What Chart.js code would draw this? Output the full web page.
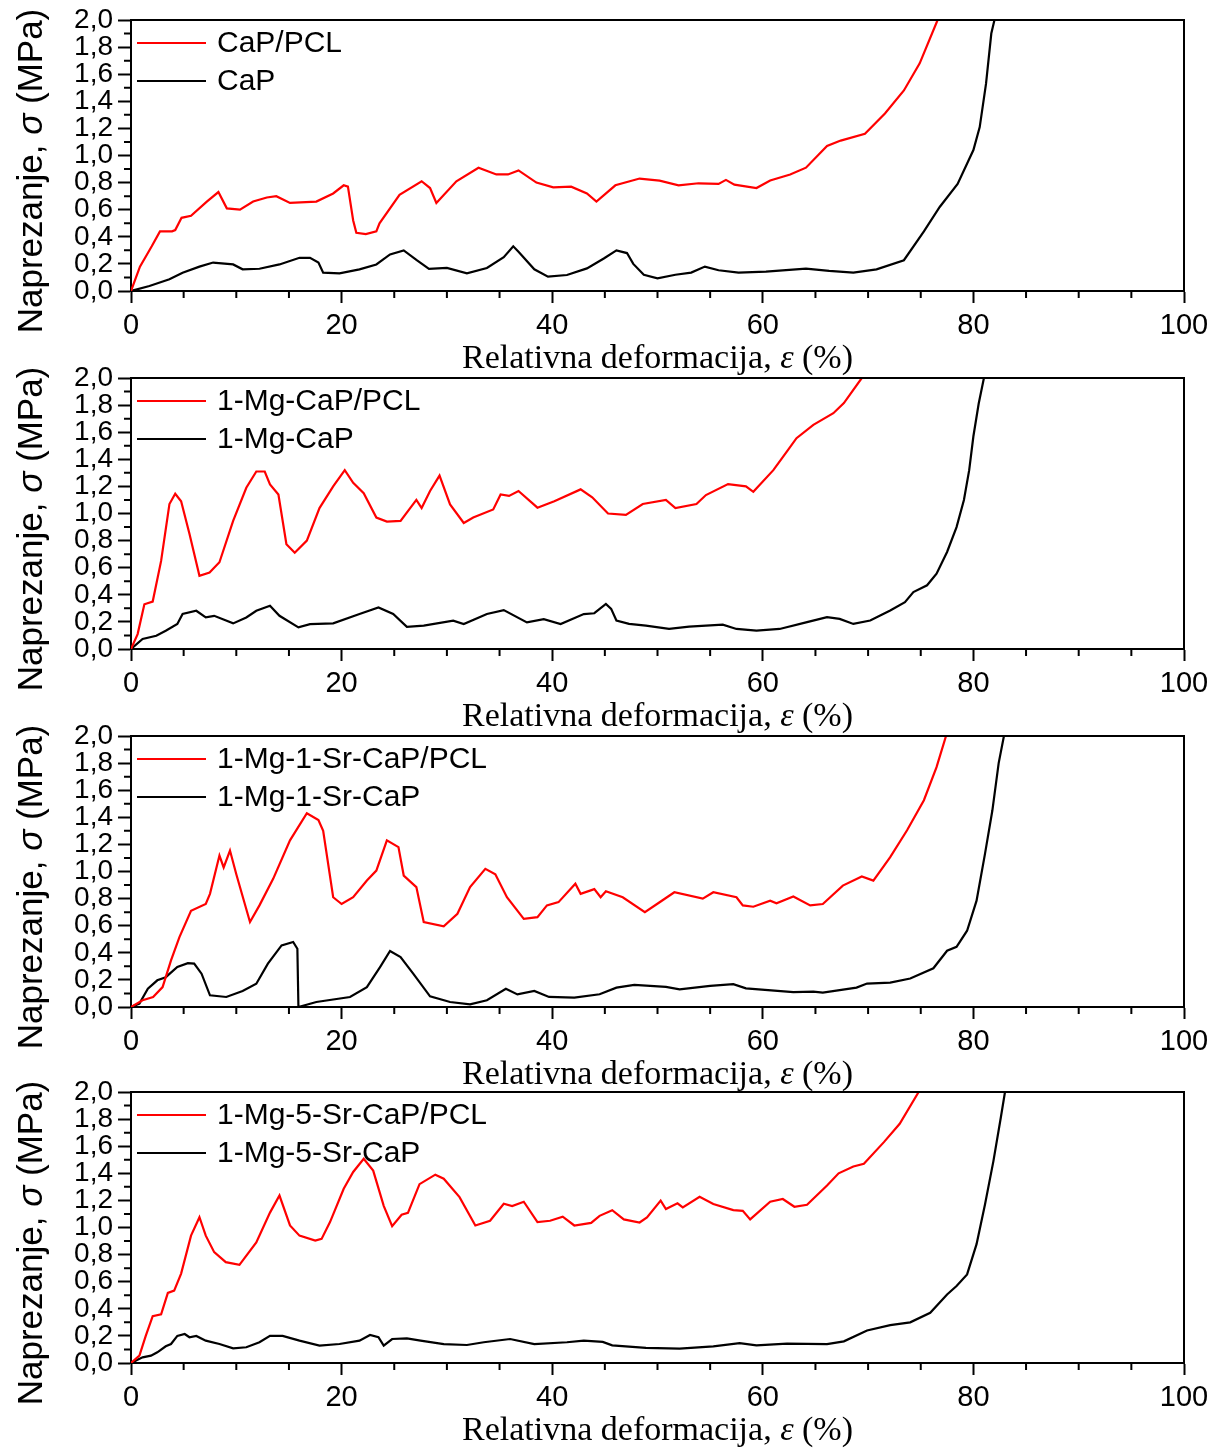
<!DOCTYPE html>
<html>
<head>
<meta charset="utf-8">
<script src="https://cdn.jsdelivr.net/npm/chart.js@4.4.0/dist/chart.umd.min.js"></script>
<style>
  body { margin: 0; background: #fff; }
  canvas.panel { position: absolute; left: 0; }
</style>
</head>
<body>
<canvas id="p1" class="panel" style="top:0px" width="1220" height="376"></canvas>
<canvas id="p2" class="panel" style="top:358px" width="1220" height="376"></canvas>
<canvas id="p3" class="panel" style="top:716px" width="1220" height="376"></canvas>
<canvas id="p4" class="panel" style="top:1072px" width="1220" height="376"></canvas>
<script>
// axis ticks
const xMajor = [0, 20, 40, 60, 80, 100];
const yLabels = ['0,0', '0,2', '0,4', '0,6', '0,8', '1,0', '1,2', '1,4', '1,6', '1,8', '2,0'];
const xTitle = ['Relativna deformacija, ', 'ε', ' (%)'];
const yTitle = ['Naprezanje, ', 'σ', ' (MPa)'];

// panel 1
const capPclX = [0, 0.85, 1.97, 2.75, 3.9, 4.2, 4.8, 5.7, 7.2, 8.3, 9.1, 10.35, 11.6, 12.9, 13.8, 15.1, 17.6, 19.2, 20.2, 20.6, 21.1, 21.4, 22.3, 23.3, 23.6, 25.5, 27.6, 28.4, 29.0, 30.9, 33.0, 34.7, 35.8, 36.8, 38.5, 40.1, 41.8, 43.3, 44.2, 46.0, 48.3, 50.2, 52.0, 53.9, 55.8, 56.5, 57.3, 59.4, 60.7, 62.6, 64.1, 66.1, 67.4, 69.7, 71.6, 73.4, 74.9, 76.6];
const capPclY = [0, 0.18, 0.33, 0.44, 0.44, 0.45, 0.54, 0.555, 0.66, 0.73, 0.61, 0.60, 0.66, 0.69, 0.70, 0.65, 0.66, 0.72, 0.78, 0.77, 0.52, 0.43, 0.42, 0.44, 0.50, 0.71, 0.81, 0.76, 0.65, 0.81, 0.91, 0.86, 0.86, 0.89, 0.80, 0.765, 0.77, 0.72, 0.66, 0.78, 0.83, 0.815, 0.78, 0.795, 0.79, 0.82, 0.785, 0.76, 0.815, 0.86, 0.91, 1.07, 1.11, 1.16, 1.31, 1.48, 1.68, 2.0];
const capX = [0, 1.75, 3.65, 4.9, 6.5, 7.8, 9.7, 10.6, 12.2, 14.1, 16.0, 17.0, 17.8, 18.25, 19.8, 21.7, 23.3, 24.6, 25.9, 27.1, 28.3, 30.0, 31.9, 33.8, 35.4, 36.3, 36.8, 38.3, 39.6, 41.4, 43.3, 44.9, 46.1, 47.1, 47.7, 48.7, 50.0, 51.7, 53.2, 54.5, 55.8, 57.7, 60.3, 64.1, 66.3, 68.6, 70.8, 73.4, 75.3, 76.8, 78.5, 80.0, 80.6, 81.2, 81.7, 82.0];
const capY = [0, 0.037, 0.086, 0.135, 0.18, 0.21, 0.196, 0.16, 0.164, 0.196, 0.245, 0.245, 0.21, 0.135, 0.13, 0.16, 0.196, 0.27, 0.30, 0.23, 0.164, 0.17, 0.13, 0.17, 0.25, 0.33, 0.29, 0.16, 0.106, 0.118, 0.167, 0.24, 0.30, 0.28, 0.20, 0.12, 0.094, 0.12, 0.136, 0.18, 0.153, 0.136, 0.143, 0.165, 0.148, 0.136, 0.16, 0.227, 0.44, 0.62, 0.79, 1.04, 1.21, 1.53, 1.90, 2.0];

// panel 2
const mgPclX = [0, 0.63, 1.27, 2.06, 2.86, 3.65, 4.2, 4.76, 5.55, 6.5, 7.46, 8.4, 9.7, 10.95, 11.9, 12.7, 13.2, 14.0, 14.76, 15.55, 16.7, 17.9, 19.2, 20.3, 21.1, 22.1, 23.3, 24.3, 25.6, 27.1, 27.6, 28.4, 29.3, 30.3, 31.6, 32.5, 34.4, 35.1, 35.9, 36.8, 38.6, 40.2, 42.7, 43.8, 45.3, 47.0, 48.6, 50.8, 51.7, 53.7, 54.6, 56.7, 58.4, 59.1, 61.0, 62.4, 63.2, 64.8, 66.7, 67.7, 69.4];
const mgPclY = [0, 0.11, 0.33, 0.35, 0.65, 1.07, 1.146, 1.09, 0.85, 0.54, 0.564, 0.64, 0.945, 1.19, 1.31, 1.31, 1.215, 1.14, 0.773, 0.71, 0.80, 1.04, 1.20, 1.32, 1.227, 1.15, 0.97, 0.94, 0.945, 1.10, 1.04, 1.166, 1.28, 1.067, 0.93, 0.97, 1.03, 1.14, 1.13, 1.166, 1.043, 1.09, 1.178, 1.12, 1.0, 0.99, 1.07, 1.10, 1.04, 1.07, 1.136, 1.217, 1.2, 1.16, 1.32, 1.47, 1.556, 1.654, 1.74, 1.815, 2.0];
const mgX = [0, 1.1, 2.4, 3.3, 4.4, 4.9, 6.2, 7.1, 7.9, 9.7, 10.95, 11.9, 13.2, 14.1, 15.9, 17.0, 19.2, 21.7, 23.5, 24.9, 26.2, 27.8, 30.6, 31.6, 33.8, 35.4, 37.6, 39.2, 40.8, 43.0, 44.0, 45.1, 45.6, 46.1, 47.3, 48.9, 51.1, 53.0, 56.2, 57.5, 59.4, 61.6, 64.2, 66.1, 67.3, 68.6, 70.2, 72.1, 73.5, 74.3, 75.6, 76.5, 77.5, 78.4, 79.1, 79.6, 80.0, 80.5, 81.0];
const mgY = [0, 0.074, 0.098, 0.135, 0.184, 0.258, 0.282, 0.233, 0.245, 0.189, 0.233, 0.282, 0.319, 0.245, 0.16, 0.184, 0.189, 0.258, 0.307, 0.258, 0.164, 0.172, 0.209, 0.184, 0.258, 0.287, 0.196, 0.22, 0.184, 0.258, 0.264, 0.333, 0.296, 0.21, 0.185, 0.173, 0.148, 0.165, 0.18, 0.148, 0.136, 0.148, 0.198, 0.235, 0.222, 0.185, 0.21, 0.284, 0.346, 0.42, 0.47, 0.556, 0.716, 0.90, 1.10, 1.32, 1.57, 1.81, 2.0];

// panel 3
const sr1PclX = [0, 1.1, 2.1, 3.0, 3.8, 4.6, 5.7, 7.1, 7.5, 8.4, 8.8, 9.4, 10.0, 11.3, 12.2, 13.5, 15.1, 16.7, 17.8, 18.25, 19.2, 20.0, 21.1, 22.4, 23.3, 24.3, 25.4, 25.9, 27.1, 27.8, 29.7, 31.0, 32.2, 33.65, 34.6, 35.7, 37.3, 38.6, 39.5, 40.6, 42.2, 42.7, 44.0, 44.6, 45.1, 46.7, 48.8, 50.2, 51.6, 54.3, 55.3, 57.5, 58.1, 59.1, 60.7, 61.3, 62.9, 64.5, 65.7, 67.6, 69.4, 70.5, 72.1, 73.7, 75.3, 76.5, 77.4];
const sr1PclY = [0, 0.05, 0.074, 0.147, 0.344, 0.516, 0.71, 0.76, 0.835, 1.118, 1.03, 1.155, 0.98, 0.627, 0.75, 0.946, 1.23, 1.43, 1.38, 1.30, 0.81, 0.76, 0.81, 0.934, 1.007, 1.23, 1.18, 0.97, 0.885, 0.627, 0.595, 0.688, 0.885, 1.02, 0.98, 0.81, 0.65, 0.663, 0.75, 0.774, 0.91, 0.835, 0.87, 0.81, 0.854, 0.81, 0.70, 0.773, 0.847, 0.80, 0.847, 0.81, 0.75, 0.74, 0.785, 0.765, 0.815, 0.75, 0.76, 0.896, 0.963, 0.933, 1.106, 1.304, 1.526, 1.77, 2.0];
const sr1X = [0, 0.8, 1.6, 2.5, 3.3, 4.4, 5.4, 6.0, 6.7, 7.5, 9.05, 10.6, 11.9, 13.0, 14.3, 15.4, 15.8, 15.9, 17.6, 20.8, 22.4, 23.65, 24.6, 25.6, 26.8, 28.4, 30.3, 32.2, 33.8, 35.6, 36.7, 38.3, 39.7, 42.1, 44.5, 46.1, 47.8, 50.8, 52.1, 55.0, 57.2, 58.4, 62.9, 64.8, 65.7, 68.9, 69.9, 72.1, 74.0, 76.2, 77.5, 78.4, 79.4, 80.3, 81.1, 81.8, 82.4, 82.9];
const sr1Y = [0, 0.025, 0.135, 0.197, 0.22, 0.295, 0.324, 0.32, 0.246, 0.086, 0.074, 0.118, 0.172, 0.32, 0.455, 0.48, 0.43, 0.0, 0.037, 0.074, 0.147, 0.295, 0.413, 0.369, 0.246, 0.079, 0.037, 0.02, 0.05, 0.135, 0.093, 0.118, 0.074, 0.069, 0.094, 0.143, 0.163, 0.148, 0.13, 0.156, 0.168, 0.138, 0.11, 0.114, 0.106, 0.143, 0.173, 0.18, 0.21, 0.286, 0.415, 0.444, 0.563, 0.785, 1.13, 1.45, 1.80, 2.0];

// panel 4
const sr5PclX = [0, 0.8, 1.4, 2.06, 2.86, 3.5, 4.1, 4.76, 5.7, 6.5, 7.1, 7.9, 9.0, 10.3, 11.9, 13.2, 14.1, 15.1, 16.0, 17.5, 18.1, 18.9, 20.2, 21.1, 22.1, 23.0, 24.0, 24.8, 25.7, 26.3, 27.4, 28.9, 29.7, 31.2, 32.7, 34.1, 35.4, 36.2, 37.3, 38.6, 39.8, 41.0, 42.1, 43.7, 44.5, 45.7, 46.8, 48.3, 49.0, 50.3, 50.8, 51.9, 52.4, 54.0, 55.3, 57.2, 58.1, 58.8, 60.7, 61.9, 63.0, 64.2, 66.1, 67.2, 68.6, 69.6, 71.5, 73.0, 74.8];
const sr5PclY = [0, 0.054, 0.20, 0.345, 0.36, 0.517, 0.534, 0.66, 0.94, 1.076, 0.94, 0.818, 0.744, 0.724, 0.89, 1.11, 1.236, 1.015, 0.94, 0.904, 0.916, 1.04, 1.286, 1.41, 1.507, 1.42, 1.16, 1.01, 1.094, 1.108, 1.32, 1.39, 1.36, 1.224, 1.015, 1.05, 1.175, 1.158, 1.19, 1.04, 1.05, 1.08, 1.015, 1.034, 1.086, 1.128, 1.06, 1.037, 1.074, 1.198, 1.136, 1.178, 1.148, 1.227, 1.173, 1.128, 1.123, 1.06, 1.19, 1.21, 1.153, 1.168, 1.31, 1.40, 1.45, 1.47, 1.63, 1.765, 2.0];
const sr5X = [0, 1.1, 1.9, 2.5, 3.3, 3.8, 4.4, 5.1, 5.55, 6.2, 7.1, 8.4, 9.7, 10.95, 12.2, 13.2, 14.4, 16.0, 17.9, 19.8, 21.7, 22.7, 23.5, 24.0, 24.8, 26.2, 27.5, 29.7, 31.9, 33.5, 36.0, 38.3, 41.4, 43.0, 44.8, 45.7, 48.9, 52.1, 55.3, 57.8, 59.4, 62.3, 66.1, 67.7, 69.9, 72.1, 74.0, 75.9, 77.5, 78.4, 79.4, 80.3, 81.1, 81.9, 82.6, 83.0];
const sr5Y = [0, 0.042, 0.054, 0.079, 0.123, 0.14, 0.20, 0.214, 0.19, 0.20, 0.165, 0.14, 0.108, 0.116, 0.153, 0.20, 0.20, 0.165, 0.128, 0.14, 0.165, 0.207, 0.19, 0.128, 0.177, 0.182, 0.165, 0.14, 0.133, 0.153, 0.177, 0.14, 0.153, 0.165, 0.156, 0.13, 0.111, 0.106, 0.123, 0.146, 0.13, 0.143, 0.14, 0.16, 0.24, 0.28, 0.30, 0.37, 0.506, 0.568, 0.654, 0.877, 1.17, 1.49, 1.81, 2.0];

const panels = [
    { id: 'p1', labels: ['CaP/PCL', 'CaP'], series: [[capPclX, capPclY], [capX, capY]] },
    { id: 'p2', labels: ['1-Mg-CaP/PCL', '1-Mg-CaP'], series: [[mgPclX, mgPclY], [mgX, mgY]] },
    { id: 'p3', labels: ['1-Mg-1-Sr-CaP/PCL', '1-Mg-1-Sr-CaP'], series: [[sr1PclX, sr1PclY], [sr1X, sr1Y]] },
    { id: 'p4', labels: ['1-Mg-5-Sr-CaP/PCL', '1-Mg-5-Sr-CaP'], series: [[sr5PclX, sr5PclY], [sr5X, sr5Y]] }
];
const colors = ['#ff0000', '#000000'];

const SANS = '"Liberation Sans", Arial, sans-serif';
const SERIF = '"Liberation Serif", "Times New Roman", serif';

function toPoints(xs, ys) {
    return xs.map((x, i) => ({ x: x, y: ys[i] }));
}

function isMajorY(v) { return Math.round(v * 10) % 2 === 0; }

// draws text made of pieces, the middle one in italic
function drawRich(ctx, parts, font, italicFont, cx, baseY) {
    const fonts = [font, italicFont, font];
    let total = 0;
    const widths = parts.map((p, i) => { ctx.font = fonts[i]; const w = ctx.measureText(p).width; total += w; return w; });
    let x = cx - total / 2;
    ctx.textAlign = 'left';
    ctx.textBaseline = 'alphabetic';
    parts.forEach((p, i) => { ctx.font = fonts[i]; ctx.fillText(p, x, baseY); x += widths[i]; });
}

const decorPlugin = {
    id: 'decor',
    afterDraw(chart) {
        const ctx = chart.ctx;
        const a = chart.chartArea;
        const xs = chart.scales.x, ys = chart.scales.y;
        ctx.save();
        ctx.strokeStyle = '#000';
        ctx.lineWidth = 2;
        // frame top + right
        ctx.beginPath();
        ctx.moveTo(a.left, a.top);
        ctx.lineTo(a.right, a.top);
        ctx.lineTo(a.right, a.bottom);
        ctx.stroke();
        // minor ticks
        ctx.beginPath();
        xs.ticks.forEach(t => {
            if (!xMajor.includes(t.value)) {
                const px = xs.getPixelForValue(t.value);
                ctx.moveTo(px, a.bottom);
                ctx.lineTo(px, a.bottom + 7);
            }
        });
        ys.ticks.forEach(t => {
            if (!isMajorY(t.value)) {
                const py = ys.getPixelForValue(t.value);
                ctx.moveTo(a.left, py);
                ctx.lineTo(a.left - 7, py);
            }
        });
        ctx.stroke();
        // legend inside the plot
        chart.data.datasets.forEach((ds, i) => {
            const ly = a.top + 23 + i * 38;
            ctx.strokeStyle = ds.borderColor;
            ctx.lineWidth = 2.2;
            ctx.beginPath();
            ctx.moveTo(a.left + 6, ly);
            ctx.lineTo(a.left + 75, ly);
            ctx.stroke();
            ctx.fillStyle = '#000';
            ctx.font = '30px ' + SANS;
            ctx.textAlign = 'left';
            ctx.textBaseline = 'middle';
            ctx.fillText(ds.label, a.left + 86, ly + 1);
        });
        // axis titles
        ctx.fillStyle = '#000';
        drawRich(ctx, xTitle, '34px ' + SERIF, 'italic 34px ' + SERIF, (a.left + a.right) / 2, a.bottom + 77);
        ctx.translate(42, a.top + 151);
        ctx.rotate(-Math.PI / 2);
        drawRich(ctx, yTitle, '35px ' + SANS, 'italic 35px ' + SANS, 0, 0);
        ctx.restore();
    }
};

panels.forEach(p => {
    new Chart(document.getElementById(p.id), {
        type: 'line',
        data: {
            datasets: p.series.map((s, i) => ({
                label: p.labels[i],
                data: toPoints(s[0], s[1]),
                borderColor: colors[i],
                borderWidth: 2.2,
                pointRadius: 0,
                tension: 0,
                fill: false
            }))
        },
        options: {
            responsive: false,
            animation: false,
            devicePixelRatio: 1,
            layout: { padding: { left: 0, right: 36, top: 20, bottom: 0 } },
            plugins: { legend: { display: false }, tooltip: { enabled: false } },
            scales: {
                x: {
                    type: 'linear',
                    min: 0,
                    max: 100,
                    afterFit: s => { s.height = 85; s.paddingLeft = 0; s.paddingRight = 0; },
                    ticks: {
                        stepSize: 5,
                        autoSkip: false,
                        maxRotation: 0,
                        padding: 6,
                        color: '#000',
                        font: { family: SANS, size: 29 },
                        callback: v => xMajor.includes(v) ? String(v) : ''
                    },
                    grid: {
                        drawOnChartArea: false,
                        tickLength: 12,
                        tickWidth: 2,
                        tickColor: c => (c.tick && xMajor.includes(c.tick.value)) ? '#000' : 'rgba(0,0,0,0)'
                    },
                    border: { color: '#000', width: 2 }
                },
                y: {
                    min: 0,
                    max: 2,
                    afterFit: s => { s.width = 131; s.paddingTop = 0; s.paddingBottom = 0; },
                    ticks: {
                        stepSize: 0.1,
                        autoSkip: false,
                        padding: 5,
                        color: '#000',
                        font: { family: SANS, size: 28 },
                        callback: v => isMajorY(v) ? yLabels[Math.round(v * 5)] : ''
                    },
                    grid: {
                        drawOnChartArea: false,
                        tickLength: 13,
                        tickWidth: 2,
                        tickColor: c => (c.tick && isMajorY(c.tick.value)) ? '#000' : 'rgba(0,0,0,0)'
                    },
                    border: { color: '#000', width: 2 }
                }
            }
        },
        plugins: [decorPlugin]
    });
});
</script>
</body>
</html>
